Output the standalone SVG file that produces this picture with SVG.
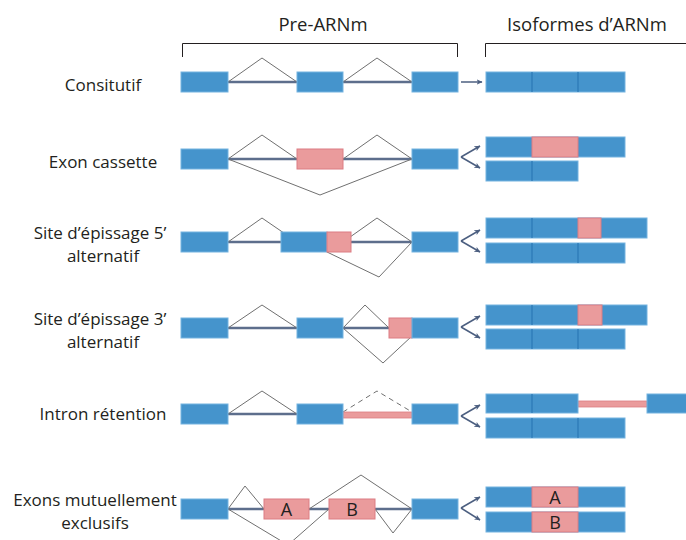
<svg xmlns="http://www.w3.org/2000/svg" width="686" height="540" viewBox="0 0 686 540">
<defs>
<style>
.lbl{font-family:"Open Sans","Liberation Sans",sans-serif;font-size:17px;fill:#231f20;text-anchor:middle}
.hdr{font-family:"Open Sans","Liberation Sans",sans-serif;font-size:18.5px;fill:#231f20;text-anchor:middle}
.ab{font-family:"Open Sans","Liberation Sans",sans-serif;font-size:18px;fill:#231f20;text-anchor:middle}
.ex{fill:#4594cc;stroke:#74b3e0;stroke-width:1}
.pk{fill:#ea9b9c;stroke:#dc7d83;stroke-width:1}
.div{stroke:#2b78b6;stroke-width:1.2}
.intr{stroke:#5d6e8c;stroke-width:2.6;fill:none}
.spl{stroke:#707070;stroke-width:1;fill:none}
.dash{stroke:#707070;stroke-width:1;fill:none;stroke-dasharray:5 4}
.brk{stroke:#231f20;stroke-width:1;fill:none}
.arr{stroke:#4c5f80;stroke-width:1.5;fill:none;marker-end:url(#ah)}
.ret{fill:#ea9b9c;stroke:#dc7d83;stroke-width:0.8}
</style>
<marker id="ah" viewBox="0 0 10 10" refX="9" refY="5" markerWidth="6" markerHeight="6" orient="auto" markerUnits="userSpaceOnUse">
<path d="M0,0.5 L10,5 L0,9.5 L2.5,5 Z" fill="#4c5f80"/>
</marker>
</defs>
<rect width="686" height="540" fill="#ffffff"/>

<g id="headers">
<text class="hdr" x="323" y="31">Pre-ARNm</text>
<path class="brk" d="M182.5,57 V43.5 H457.5 V57"/>
<text class="hdr" x="587" y="31">Isoformes d’ARNm</text>
<path class="brk" d="M485.5,57 V43.5 H690"/>
</g>

<g id="labels">
<text class="lbl" x="103" y="91">Consitutif</text>
<text class="lbl" x="103" y="168">Exon cassette</text>
<text class="lbl" x="100" y="239">Site d’épissage 5’</text>
<text class="lbl" x="103" y="262">alternatif</text>
<text class="lbl" x="100" y="325">Site d’épissage 3’</text>
<text class="lbl" x="103" y="348">alternatif</text>
<text class="lbl" x="103" y="420">Intron rétention</text>
<text class="lbl" x="95" y="506">Exons mutuellement</text>
<text class="lbl" x="95" y="529">exclusifs</text>
</g>

<!-- Row 1: constitutif -->
<g id="pre-constitutif">
<line class="intr" x1="228" y1="82" x2="412" y2="82"/>
<polyline class="spl" points="228,82 262,58 297,82"/>
<polyline class="spl" points="343,82 377,58 412,82"/>
<rect class="ex" x="181" y="72" width="47" height="20"/>
<rect class="ex" x="297" y="72" width="46" height="20"/>
<rect class="ex" x="412" y="72" width="46" height="20"/>
</g>
<g id="iso-constitutif">
<rect class="ex" x="486" y="72" width="139" height="20"/>
<line class="div" x1="532" y1="72" x2="532" y2="92"/>
<line class="div" x1="578" y1="72" x2="578" y2="92"/>
</g>

<!-- Row 2: exon cassette -->
<g id="pre-cassette">
<line class="intr" x1="228" y1="159" x2="412" y2="159"/>
<polyline class="spl" points="228,159 262,135 297,159"/>
<polyline class="spl" points="343,159 377,135 412,159"/>
<polyline class="spl" points="228,159 320,195 412,159"/>
<rect class="ex" x="181" y="149" width="47" height="20"/>
<rect class="pk" x="297" y="149" width="46" height="20"/>
<rect class="ex" x="412" y="149" width="46" height="20"/>
</g>
<g id="iso-cassette">
<rect class="ex" x="486" y="137" width="139" height="20"/>
<rect class="pk" x="532" y="137" width="46" height="20"/>
<rect class="ex" x="486" y="161" width="92" height="20"/>
<line class="div" x1="532" y1="161" x2="532" y2="181"/>
</g>

<!-- Row 3: 5' alternatif -->
<g id="pre-site5">
<line class="intr" x1="228" y1="242" x2="412" y2="242"/>
<polyline class="spl" points="228,242 262,218 297,242"/>
<polyline class="spl" points="343,242 377,218 412,242"/>
<polyline class="spl" points="327,252 379,277 412,242"/>
<rect class="ex" x="181" y="232" width="47" height="20"/>
<rect class="ex" x="281" y="232" width="46" height="20"/>
<rect class="pk" x="327" y="232" width="24" height="20"/>
<rect class="ex" x="412" y="232" width="46" height="20"/>
</g>
<g id="iso-site5">
<rect class="ex" x="486" y="218" width="161" height="20"/>
<rect class="pk" x="578" y="218" width="23" height="20"/>
<line class="div" x1="532" y1="218" x2="532" y2="238"/>
<rect class="ex" x="486" y="243" width="139" height="20"/>
<line class="div" x1="532" y1="243" x2="532" y2="263"/>
<line class="div" x1="578" y1="243" x2="578" y2="263"/>
</g>

<!-- Row 4: 3' alternatif -->
<g id="pre-site3">
<line class="intr" x1="228" y1="328" x2="412" y2="328"/>
<polyline class="spl" points="228,328 262,305 297,328"/>
<polyline class="spl" points="343,328 365,305 389,328"/>
<polyline class="spl" points="343,328 383,363 412,336"/>
<rect class="ex" x="181" y="318" width="47" height="20"/>
<rect class="ex" x="297" y="318" width="46" height="20"/>
<rect class="pk" x="389" y="318" width="23" height="20"/>
<rect class="ex" x="412" y="318" width="46" height="20"/>
</g>
<g id="iso-site3">
<rect class="ex" x="486" y="305" width="161" height="20"/>
<rect class="pk" x="578" y="305" width="24" height="20"/>
<line class="div" x1="532" y1="305" x2="532" y2="325"/>
<rect class="ex" x="486" y="329" width="139" height="20"/>
<line class="div" x1="532" y1="329" x2="532" y2="349"/>
<line class="div" x1="578" y1="329" x2="578" y2="349"/>
</g>

<!-- Row 5: intron retention -->
<g id="pre-retention">
<line class="intr" x1="228" y1="414" x2="297" y2="414"/>
<polyline class="spl" points="228,414 262,391 297,414"/>
<polyline class="dash" points="343,412 377,391 412,412"/>
<rect class="ret" x="343" y="412" width="69" height="6"/>
<rect class="ex" x="181" y="404" width="47" height="20"/>
<rect class="ex" x="297" y="404" width="46" height="20"/>
<rect class="ex" x="412" y="404" width="46" height="20"/>
</g>
<g id="iso-retention">
<rect class="ret" x="578" y="401" width="69" height="6"/>
<rect class="ex" x="486" y="394" width="92" height="19"/>
<line class="div" x1="532" y1="394" x2="532" y2="413"/>
<rect class="ex" x="647" y="394" width="46" height="19"/>
<rect class="ex" x="486" y="418" width="139" height="20"/>
<line class="div" x1="532" y1="418" x2="532" y2="438"/>
<line class="div" x1="578" y1="418" x2="578" y2="438"/>
</g>

<!-- Row 6: mutuellement exclusifs -->
<g id="pre-exclusifs">
<line class="intr" x1="228" y1="509" x2="412" y2="509"/>
<polyline class="spl" points="228,509 245,486 264,509"/>
<polyline class="spl" points="228,509 288,545 329,509"/>
<polyline class="spl" points="309,509 361,475 412,509"/>
<polyline class="spl" points="375,509 393,533 412,509"/>
<rect class="ex" x="181" y="499" width="47" height="20"/>
<rect class="pk" x="264" y="499" width="45" height="20"/>
<text class="ab" x="286.5" y="515.5">A</text>
<rect class="pk" x="329" y="499" width="46" height="20"/>
<text class="ab" x="352" y="515.5">B</text>
<rect class="ex" x="412" y="499" width="46" height="20"/>
</g>
<g id="iso-exclusifs">
<rect class="ex" x="486" y="487" width="139" height="20"/>
<rect class="pk" x="532" y="487" width="46" height="20"/>
<text class="ab" x="555" y="503.5">A</text>
<rect class="ex" x="486" y="512" width="139" height="20"/>
<rect class="pk" x="532" y="512" width="46" height="20"/>
<text class="ab" x="555" y="528.5">B</text>
</g>

<g id="connectors">
<line class="arr" x1="461" y1="82" x2="482" y2="82"/>
<line class="arr" x1="461" y1="157" x2="480" y2="146"/>
<line class="arr" x1="461" y1="157" x2="480" y2="168"/>
<line class="arr" x1="461" y1="241" x2="480" y2="230"/>
<line class="arr" x1="461" y1="241" x2="480" y2="252"/>
<line class="arr" x1="461" y1="327" x2="480" y2="316"/>
<line class="arr" x1="461" y1="327" x2="480" y2="338"/>
<line class="arr" x1="461" y1="416" x2="480" y2="405"/>
<line class="arr" x1="461" y1="416" x2="480" y2="427"/>
<line class="arr" x1="461" y1="508" x2="480" y2="497"/>
<line class="arr" x1="461" y1="508" x2="480" y2="520"/>
</g>
</svg>
